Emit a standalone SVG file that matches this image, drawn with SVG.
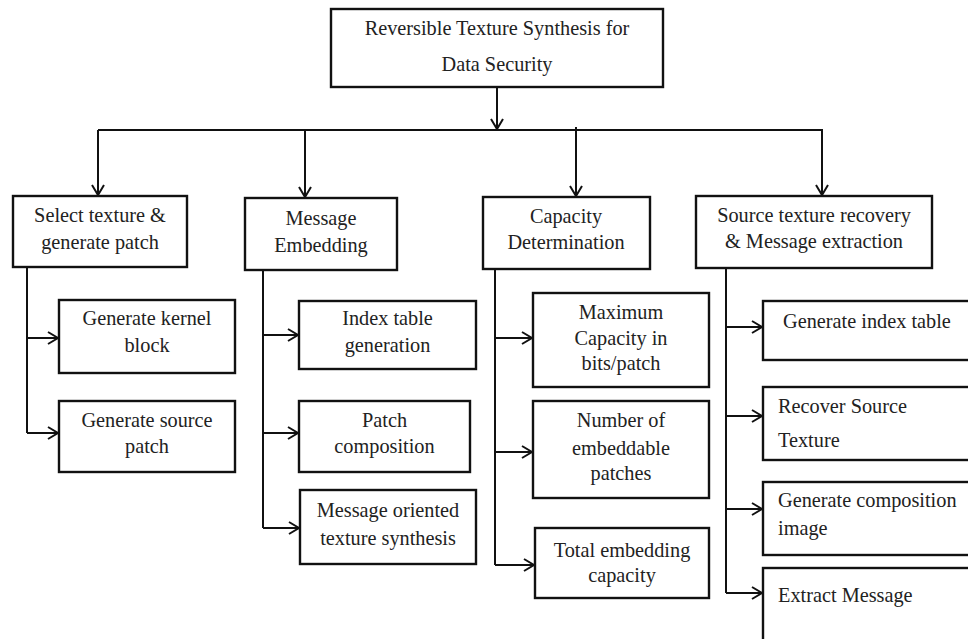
<svg xmlns="http://www.w3.org/2000/svg" width="968" height="639" viewBox="0 0 968 639">
<defs>
<style>
.box{fill:#fff;stroke:#111;stroke-width:2.4}
.ln{fill:none;stroke:#111;stroke-width:2}
text{font-family:"Liberation Serif","Times New Roman",serif;font-size:20.3px;fill:#222}
.c{text-anchor:middle}
</style>
<marker id="ah" markerUnits="userSpaceOnUse" markerWidth="14" markerHeight="14" viewBox="0 0 14 14" refX="12" refY="7" orient="auto">
<path d="M2,1 L12,7 L2,13" fill="none" stroke="#111" stroke-width="2"/>
</marker>
</defs>
<rect width="968" height="639" fill="#fff"/>

<g id="connectors">
<line class="ln" x1="497" y1="87" x2="497" y2="129" marker-end="url(#ah)"/>
<line class="ln" x1="98" y1="130" x2="823" y2="130"/>
<line class="ln" x1="98" y1="130" x2="98" y2="195" marker-end="url(#ah)"/>
<line class="ln" x1="305" y1="130" x2="305" y2="197" marker-end="url(#ah)"/>
<line class="ln" x1="576" y1="127" x2="576" y2="196" marker-end="url(#ah)"/>
<line class="ln" x1="822" y1="130" x2="822" y2="195" marker-end="url(#ah)"/>
<path class="ln" d="M27,267 V433"/>
<line class="ln" x1="27" y1="338" x2="58" y2="338" marker-end="url(#ah)"/>
<line class="ln" x1="27" y1="433" x2="58" y2="433" marker-end="url(#ah)"/>
<path class="ln" d="M263,270 V528"/>
<line class="ln" x1="263" y1="335" x2="298" y2="335" marker-end="url(#ah)"/>
<line class="ln" x1="263" y1="433" x2="298" y2="433" marker-end="url(#ah)"/>
<line class="ln" x1="263" y1="528" x2="299" y2="528" marker-end="url(#ah)"/>
<path class="ln" d="M495,269 V565"/>
<line class="ln" x1="495" y1="338" x2="532" y2="338" marker-end="url(#ah)"/>
<line class="ln" x1="495" y1="452" x2="532" y2="452" marker-end="url(#ah)"/>
<line class="ln" x1="495" y1="565" x2="534" y2="565" marker-end="url(#ah)"/>
<path class="ln" d="M726,268 V593"/>
<line class="ln" x1="726" y1="327" x2="762" y2="327" marker-end="url(#ah)"/>
<line class="ln" x1="726" y1="416" x2="762" y2="416" marker-end="url(#ah)"/>
<line class="ln" x1="726" y1="509" x2="762" y2="509" marker-end="url(#ah)"/>
<line class="ln" x1="726" y1="593" x2="762" y2="593" marker-end="url(#ah)"/>
</g>

<g id="root">
<rect class="box" x="331" y="9" width="332" height="78"/>
<text class="c" x="497" y="35">Reversible Texture Synthesis for</text>
<text class="c" x="497" y="71">Data Security</text>
</g>

<g id="select-texture">
<rect class="box" x="13" y="196" width="174" height="71"/>
<text class="c" x="100" y="222">Select texture &amp;</text>
<text class="c" x="100" y="249">generate patch</text>
</g>
<g id="message-embedding">
<rect class="box" x="245" y="198" width="152" height="72"/>
<text class="c" x="321" y="225">Message</text>
<text class="c" x="321" y="252">Embedding</text>
</g>
<g id="capacity-determination">
<rect class="box" x="483" y="197" width="167" height="72"/>
<text class="c" x="566" y="223">Capacity</text>
<text class="c" x="566" y="249">Determination</text>
</g>
<g id="source-recovery">
<rect class="box" x="696" y="196" width="236" height="72"/>
<text class="c" x="814" y="222">Source texture recovery</text>
<text class="c" x="814" y="248">&amp; Message extraction</text>
</g>

<g id="kernel-block">
<rect class="box" x="59" y="300" width="176" height="73"/>
<text class="c" x="147" y="325">Generate kernel</text>
<text class="c" x="147" y="352">block</text>
</g>
<g id="source-patch">
<rect class="box" x="59" y="401" width="176" height="71"/>
<text class="c" x="147" y="427">Generate source</text>
<text class="c" x="147" y="453">patch</text>
</g>

<g id="index-table-generation">
<rect class="box" x="299" y="301" width="177" height="68"/>
<text class="c" x="387.5" y="325">Index table</text>
<text class="c" x="387.5" y="352">generation</text>
</g>
<g id="patch-composition">
<rect class="box" x="299" y="401" width="171" height="71"/>
<text class="c" x="384.5" y="427">Patch</text>
<text class="c" x="384.5" y="453">composition</text>
</g>
<g id="message-oriented">
<rect class="box" x="300" y="490" width="176" height="74"/>
<text class="c" x="388" y="517">Message oriented</text>
<text class="c" x="388" y="545">texture synthesis</text>
</g>

<g id="max-capacity">
<rect class="box" x="533" y="293" width="176" height="94"/>
<text class="c" x="621" y="319">Maximum</text>
<text class="c" x="621" y="345">Capacity in</text>
<text class="c" x="621" y="370">bits/patch</text>
</g>
<g id="number-patches">
<rect class="box" x="533" y="401" width="176" height="97"/>
<text class="c" x="621" y="427">Number of</text>
<text class="c" x="621" y="455">embeddable</text>
<text class="c" x="621" y="480">patches</text>
</g>
<g id="total-capacity">
<rect class="box" x="535" y="528" width="174" height="70"/>
<text class="c" x="622" y="557">Total embedding</text>
<text class="c" x="622" y="582">capacity</text>
</g>

<g id="generate-index-table">
<rect class="box" x="763" y="301" width="215" height="59"/>
<text x="783" y="328">Generate index table</text>
</g>
<g id="recover-source">
<rect class="box" x="763" y="387" width="215" height="73"/>
<text x="778" y="413">Recover Source</text>
<text x="778" y="447">Texture</text>
</g>
<g id="composition-image">
<rect class="box" x="763" y="482" width="215" height="73"/>
<text x="778" y="507">Generate composition</text>
<text x="778" y="535">image</text>
</g>
<g id="extract-message">
<rect class="box" x="763" y="568" width="215" height="90"/>
<text x="778" y="602">Extract Message</text>
</g>
</svg>
